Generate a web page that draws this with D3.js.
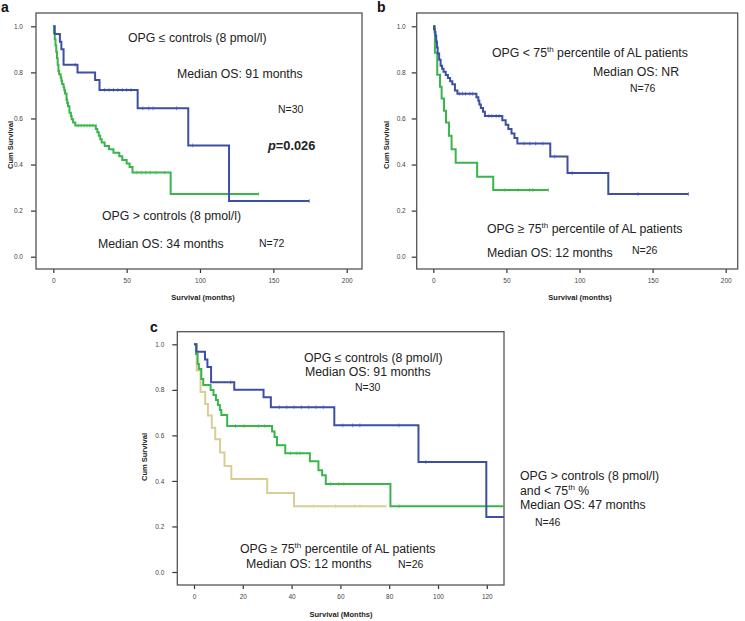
<!DOCTYPE html>
<html>
<head>
<meta charset="utf-8">
<script src="https://cdn.jsdelivr.net/npm/d3@7"></script>
<style>
  html, body { margin: 0; padding: 0; background: #fff; }
  svg { display: block; font-family: "Liberation Sans", Arial, sans-serif; }
</style>
</head>
<body>
<svg id="chart" width="745" height="621"></svg>
<script>
// ---------------- DATA ----------------
const yTicks = [0.0, 0.2, 0.4, 0.6, 0.8, 1.0];
const xTicksAB = [0, 50, 100, 150, 200];
const xTicksC = [0, 20, 40, 60, 80, 100, 120];

// OPG <= controls (N=30)
const lowTime = [0, 1, 4.5, 5.5, 7, 16.5, 28.5, 31.5, 57.5, 92, 119.8, 174.5];
const lowSurv = [1.0, 0.967, 0.933, 0.900, 0.833, 0.800, 0.767, 0.724, 0.644, 0.483, 0.242, 0.242];
const lowCensor = [15, 35, 38, 41, 44, 47, 50, 53, 61, 65, 68, 84, 95, 174.5];

// OPG > controls (N=72)
const highTime = [0, 0.5, 1, 1.5, 2, 2.5, 3, 3.5, 4, 5, 5.5, 6, 7, 7.5, 8, 9, 9.5, 10, 11, 12, 12.5, 13.5, 15,
                  29, 30, 31, 32, 33, 35, 38, 41, 45, 47, 50, 52, 54, 80, 140];
const highSurv = [1.0, 0.972, 0.944, 0.917, 0.889, 0.861, 0.833, 0.806, 0.792, 0.778, 0.764, 0.750, 0.736, 0.722, 0.708, 0.681, 0.667, 0.653, 0.625, 0.611, 0.597, 0.583, 0.569,
                  0.554, 0.540, 0.525, 0.510, 0.496, 0.481, 0.466, 0.451, 0.436, 0.420, 0.404, 0.389, 0.365, 0.272, 0.272];
const highCensor = [17, 19, 21, 23, 25, 27, 57, 60, 63, 66, 70, 76, 140];

// OPG < 75th percentile (N=76)
const below75Time = [0, 0.5, 1, 1.5, 2, 2.5, 3, 4, 5, 6, 7, 8.5, 10, 11.5, 13, 14.8, 16.5, 29.5, 30.8, 31.5, 32.5, 34, 35.3,
                     47.2, 49.5, 51.3, 53.5, 55.5, 57.5, 80, 91.8, 119.7, 174.5];
const below75Surv = [1.0, 0.987, 0.974, 0.960, 0.934, 0.908, 0.882, 0.855, 0.829, 0.816, 0.803, 0.789, 0.776, 0.762, 0.748, 0.721, 0.707, 0.692, 0.677, 0.661, 0.645, 0.629, 0.611,
                     0.592, 0.573, 0.554, 0.535, 0.515, 0.491, 0.435, 0.363, 0.272, 0.272];
const below75Censor = [18, 20, 22, 25, 27, 38, 40, 43, 45, 62, 66, 70, 75, 83, 95, 140, 174.5];

// OPG >= 75th percentile (N=26)
const above75Time = [0, 1.1, 2.7, 4.6, 5.7, 7.3, 8.7, 10.7, 12.5, 15.3, 30, 41, 78.7];
const above75Surv = [1.0, 0.885, 0.790, 0.738, 0.687, 0.634, 0.583, 0.525, 0.466, 0.408, 0.347, 0.289, 0.289];
const above75Censor = [49, 58, 66, 68, 78.7];

// OPG > controls and < 75th % (N=46)
const midTime = [0, 0.8, 1.5, 2, 3, 3.8, 6.8, 8, 9, 9.8, 10.6, 11.2, 13.6, 32, 33, 34, 37.4, 47.5, 51, 52.5, 54, 80.5, 140];
const midSurv = [1.0, 0.957, 0.913, 0.891, 0.848, 0.821, 0.799, 0.777, 0.755, 0.733, 0.711, 0.690, 0.641, 0.617, 0.593, 0.557, 0.522, 0.486, 0.447, 0.425, 0.387, 0.289, 0.289];
const midCensor = [17, 20.5, 26.5, 29, 39.5, 42.2, 43.5, 56, 59.3, 61.4, 84];

// ---------------- STYLE ----------------
const BLUE = "#3d4fa5", GREEN = "#3ab54b", KHAKI = "#d8ce93";
const svg = d3.select("#chart");

function survAt(times, surv, t) {
  let v = surv[0];
  for (let i = 0; i < times.length; i++) if (times[i] <= t) v = surv[i];
  return v;
}

function panel(cfg) {
  const g = svg.append("g");
  const [fx0, fy0, fx1, fy1] = cfg.frame;
  const x = d3.scaleLinear().domain(cfg.xDomain).range(cfg.xRange);
  const y = d3.scaleLinear().domain([0, 1]).range(cfg.yRange);

  const clipId = "clip-" + cfg.id;
  svg.append("clipPath").attr("id", clipId)
    .append("rect").attr("x", fx0).attr("y", fy0).attr("width", fx1 - fx0).attr("height", fy1 - fy0);

  // axes
  const yAxis = d3.axisLeft(y).tickValues(yTicks).tickFormat(d3.format(".1f")).tickSize(5).tickSizeOuter(0).tickPadding(cfg.yPad);
  const ya = g.append("g").attr("transform", `translate(${fx0},0)`).call(yAxis);
  const xAxis = d3.axisBottom(x).tickValues(cfg.xTicks).tickSize(4).tickSizeOuter(0).tickPadding(5);
  const xa = g.append("g").attr("transform", `translate(0,${fy1})`).call(xAxis);
  [ya, xa].forEach(a => {
    a.select(".domain").remove();
    a.selectAll("line").attr("stroke", "#333").attr("stroke-width", 1.2);
    a.selectAll("text").attr("font-size", 6.5).attr("fill", "#444")
      .attr("font-family", "'Liberation Sans', Arial, sans-serif");
  });

  // frame
  g.append("rect").attr("x", fx0).attr("y", fy0).attr("width", fx1 - fx0).attr("height", fy1 - fy0)
    .attr("fill", "none").attr("stroke", "#555").attr("stroke-width", 1.3);

  // curves
  const line = d3.line().x(d => x(d[0])).y(d => y(d[1])).curve(d3.curveStepAfter);
  const cg = g.append("g").attr("clip-path", `url(#${clipId})`);
  cfg.series.forEach(s => {
    const pts = s.time.map((t, i) => [t, s.surv[i]]);
    cg.append("path").attr("d", line(pts)).attr("fill", "none")
      .attr("stroke", s.color).attr("stroke-width", 2).attr("stroke-linejoin", "miter");
    cg.selectAll(null).data(s.censor).enter().append("line")
      .attr("x1", d => x(d)).attr("x2", d => x(d))
      .attr("y1", d => y(survAt(s.time, s.surv, d)) - 2)
      .attr("y2", d => y(survAt(s.time, s.surv, d)) + 2)
      .attr("stroke", s.color).attr("stroke-opacity", 0.7).attr("stroke-width", 0.8);
  });

  // axis titles
  g.append("text").attr("transform", `translate(${cfg.yLabel[0]},${cfg.yLabel[1]}) rotate(-90)`)
    .attr("text-anchor", "middle").attr("font-size", 7.5).attr("font-weight", "bold").attr("fill", "#222")
    .text("Cum Survival");
  g.append("text").attr("x", cfg.xLabel[0]).attr("y", cfg.xLabel[1])
    .attr("text-anchor", "middle").attr("font-size", 7.5).attr("font-weight", "bold").attr("fill", "#222")
    .text(cfg.xTitle);

  // panel letter
  g.append("text").attr("x", cfg.letter[1]).attr("y", cfg.letter[2])
    .attr("font-size", 14).attr("font-weight", "bold").attr("fill", "#111").text(cfg.letter[0]);

  // annotations
  cfg.notes.forEach(n => {
    const t = g.append("text").attr("x", n.x).attr("y", n.y)
      .attr("font-size", n.size || 12.3).attr("fill", "#222");
    n.parts.forEach(p => {
      const ts = t.append("tspan").text(p.t);
      if (p.sup) ts.attr("font-size", 8).attr("dy", -4.5);
      if (p.after) ts.attr("dy", 4.5);
      if (p.bold) ts.attr("font-weight", "bold");
      if (p.italic) ts.attr("font-style", "italic");
    });
  });
}

panel({
  id: "a", frame: [36, 13, 362, 269], xDomain: [0, 200], xRange: [53.3, 346.7], yRange: [256.7, 26.3],
  xTicks: xTicksAB, yPad: 8, yLabel: [13, 145], xLabel: [203, 300], xTitle: "Survival (months)",
  letter: ["a", 1, 12],
  series: [
    { time: highTime, surv: highSurv, censor: highCensor, color: GREEN },
    { time: lowTime, surv: lowSurv, censor: lowCensor, color: BLUE }
  ],
  notes: [
    { x: 128, y: 41.5, parts: [{ t: "OPG ≤ controls (8 pmol/l)" }] },
    { x: 177, y: 77.5, parts: [{ t: "Median OS: 91 months" }] },
    { x: 278, y: 113, size: 10.5, parts: [{ t: "N=30" }] },
    { x: 268, y: 149.5, size: 12.8, parts: [{ t: "p", bold: true, italic: true }, { t: "=0.026", bold: true }] },
    { x: 102, y: 219.5, parts: [{ t: "OPG > controls (8 pmol/l)" }] },
    { x: 98, y: 247.5, parts: [{ t: "Median OS: 34 months" }] },
    { x: 259, y: 247, size: 10.5, parts: [{ t: "N=72" }] }
  ]
});

panel({
  id: "b", frame: [416.7, 13, 737.7, 269], xDomain: [0, 200], xRange: [433.3, 725.7], yRange: [256.7, 26.3],
  xTicks: xTicksAB, yPad: 6, yLabel: [389, 145], xLabel: [580, 300], xTitle: "Survival (months)",
  letter: ["b", 377, 12],
  series: [
    { time: above75Time, surv: above75Surv, censor: above75Censor, color: GREEN },
    { time: below75Time, surv: below75Surv, censor: below75Censor, color: BLUE }
  ],
  notes: [
    { x: 492, y: 56.5, parts: [{ t: "OPG < 75" }, { t: "th", sup: true }, { t: " percentile of AL patients", after: true }] },
    { x: 593, y: 75.5, parts: [{ t: "Median OS: NR" }] },
    { x: 630, y: 92, size: 10.5, parts: [{ t: "N=76" }] },
    { x: 487, y: 232.5, parts: [{ t: "OPG ≥ 75" }, { t: "th", sup: true }, { t: " percentile of AL patients", after: true }] },
    { x: 487, y: 256.5, parts: [{ t: "Median OS: 12 months" }] },
    { x: 632, y: 254, size: 10.5, parts: [{ t: "N=26" }] }
  ]
});

panel({
  id: "c", frame: [177.3, 331.7, 504, 585], xDomain: [0, 120], xRange: [194, 486.8], yRange: [572, 344.3],
  xTicks: xTicksC, yPad: 8, yLabel: [147, 457], xLabel: [341, 617], xTitle: "Survival (Months)",
  letter: ["c", 150, 332],
  series: [
    { time: above75Time, surv: above75Surv, censor: above75Censor, color: KHAKI },
    { time: midTime, surv: midSurv, censor: midCensor, color: GREEN },
    { time: lowTime, surv: lowSurv, censor: lowCensor, color: BLUE }
  ],
  notes: [
    { x: 304, y: 361.5, parts: [{ t: "OPG ≤ controls (8 pmol/l)" }] },
    { x: 305, y: 376, parts: [{ t: "Median OS: 91 months" }] },
    { x: 355, y: 391, size: 10.5, parts: [{ t: "N=30" }] },
    { x: 240, y: 552.5, parts: [{ t: "OPG ≥ 75" }, { t: "th", sup: true }, { t: " percentile of AL patients", after: true }] },
    { x: 246, y: 567.5, parts: [{ t: "Median OS: 12 months" }] },
    { x: 398, y: 567.5, size: 10.5, parts: [{ t: "N=26" }] },
    { x: 520, y: 479.5, parts: [{ t: "OPG > controls (8 pmol/l)" }] },
    { x: 520, y: 494.5, parts: [{ t: "and < 75" }, { t: "th", sup: true }, { t: " %", after: true }] },
    { x: 520, y: 508.5, parts: [{ t: "Median OS: 47 months" }] },
    { x: 535, y: 526, size: 10.5, parts: [{ t: "N=46" }] }
  ]
});
</script>
</body>
</html>
